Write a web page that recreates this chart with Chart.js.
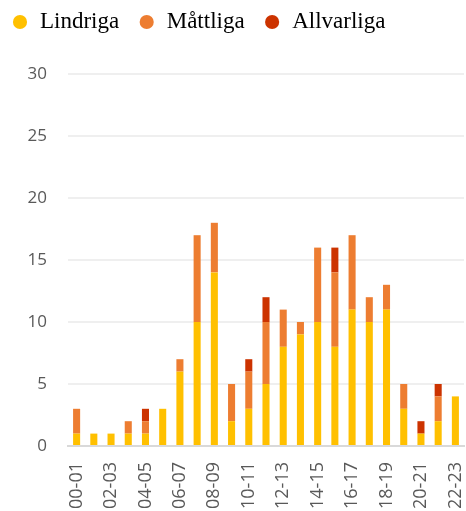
<!DOCTYPE html>
<html>
<head>
<meta charset="utf-8">
<script src="https://cdn.jsdelivr.net/npm/chart.js@4"></script>
<style>
html,body{margin:0;padding:0;background:#fff;}
#wrap{width:466px;height:511px;}
</style>
</head>
<body>
<div id="wrap"><canvas id="c" width="466" height="511"></canvas></div>
<script>
const categories = ["00-01","01-02","02-03","03-04","04-05","05-06","06-07","07-08","08-09","09-10","10-11","11-12","12-13","13-14","14-15","15-16","16-17","17-18","18-19","19-20","20-21","21-22","22-23"];
const lindriga   = [1,1,1,1,1,3,6,10,14,2,3,5,8,9,10,8,11,10,11,3,1,2,4];
const mattliga   = [2,0,0,1,1,0,1,7,4,3,3,5,3,1,6,6,6,2,2,2,0,2,0];
const allvarliga = [0,0,0,0,1,0,0,0,0,0,1,2,0,0,0,2,0,0,0,0,1,1,0];
const yTicks = [0,5,10,15,20,25,30];

const legendShift = {
  id: 'legendShift',
  beforeDraw(chart) {
    if (chart.legend) { chart.legend.left = -7.5; chart.legend.top = -8.5; }
  }
};

new Chart(document.getElementById('c'), {
  type: 'bar',
  data: {
    labels: categories,
    datasets: [
      {label: 'Lindriga', data: lindriga, backgroundColor: '#FFC000'},
      {label: 'Måttliga', data: mattliga, backgroundColor: '#ED7D31'},
      {label: 'Allvarliga', data: allvarliga, backgroundColor: '#CC3300'}
    ]
  },
  options: {
    responsive: false,
    animation: false,
    devicePixelRatio: 1,
    layout: {padding: {left: 0, right: 2, top: 22, bottom: 0}},
    datasets: {bar: {barPercentage: 0.41, categoryPercentage: 1.0, borderWidth: 0}},
    plugins: {
      tooltip: {enabled: false},
      legend: {
        position: 'top',
        align: 'start',
        labels: {
          usePointStyle: true,
          pointStyle: 'circle',
          boxWidth: 17,
          boxHeight: 10,
          padding: 19,
          color: '#000',
          font: {family: '"Liberation Serif", "Times New Roman", serif', size: 23}
        }
      }
    },
    scales: {
      x: {
        stacked: true,
        afterFit(s) { s.height = 65; s.paddingRight = 0; s.paddingLeft = 0; },
        grid: {display: false, drawTicks: false},
        border: {display: true, color: '#d9d9d9', width: 2},
        ticks: {
          autoSkip: true,
          maxRotation: 90,
          minRotation: 90,
          padding: 16,
          color: '#595959',
          font: {family: '"Open Sans", sans-serif', size: 18}
        }
      },
      y: {
        stacked: true,
        min: 0,
        max: 30,
        afterBuildTicks(s) { s.ticks = yTicks.map(v => ({value: v})); },
        afterFit(s) { s.width = 68; },
        grid: {color: '#efefef', lineWidth: 2, drawTicks: false},
        border: {display: false},
        ticks: {
          stepSize: 5,
          padding: 21,
          color: '#595959',
          font: {family: '"Open Sans", sans-serif', size: 17}
        }
      }
    }
  },
  plugins: [legendShift]
});
</script>
</body>
</html>
